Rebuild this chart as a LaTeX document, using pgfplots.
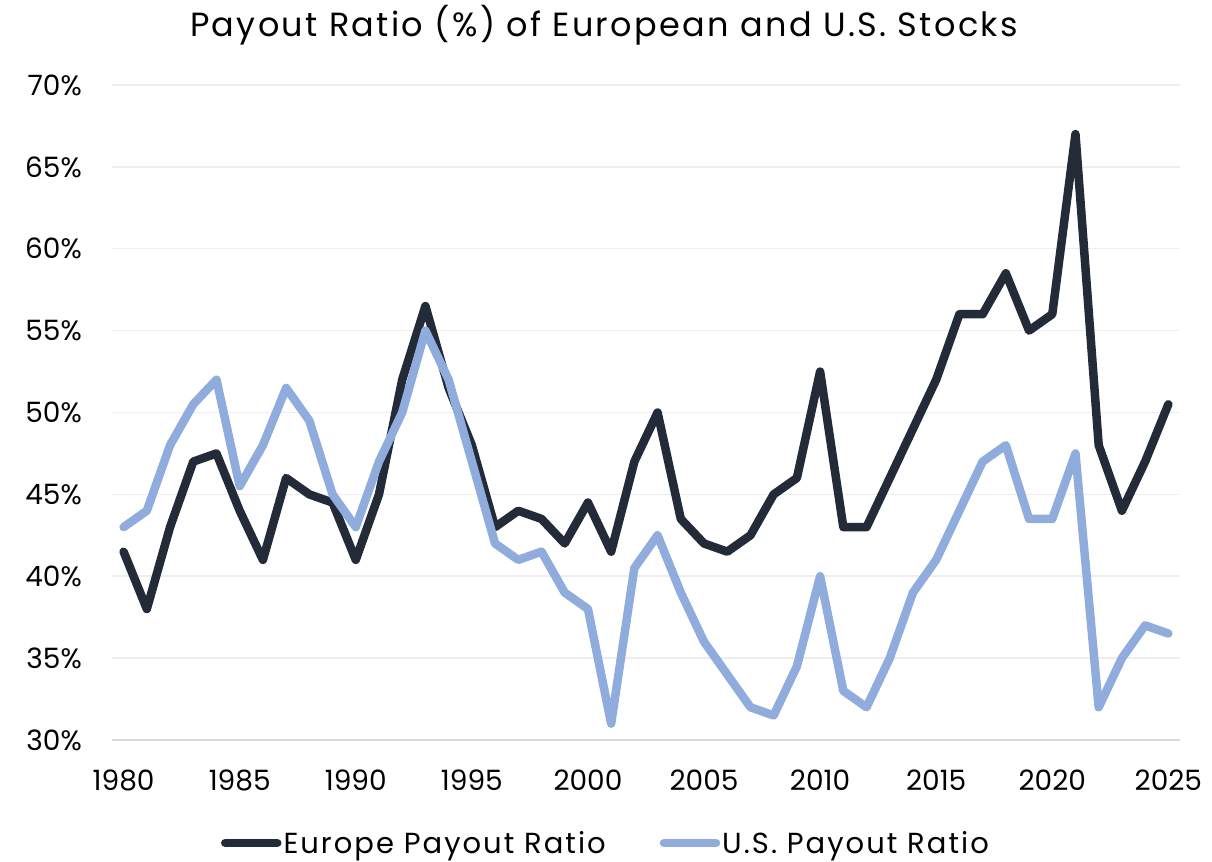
\documentclass[border=0pt]{standalone}
\usepackage{fontspec}
\setmainfont{Poppins}
\newfontfamily\widefont{Poppins}[LetterSpace=7]
\usepackage{pgfplots}
\pgfplotsset{compat=1.18}
\definecolor{eu}{HTML}{222B37}
\definecolor{us}{HTML}{8FACDD}
\definecolor{gridc}{HTML}{EEEEEE}
\definecolor{axisc}{HTML}{D9D9D9}
\begin{document}
\begin{tikzpicture}[x=1bp,y=1bp]
\useasboundingbox (0,0) rectangle (1212,862);
\node[font=\widefont\fontsize{33.5bp}{38bp}\selectfont, anchor=base] at (604,825) {Payout Ratio (\%) of European and U.S. Stocks};
\begin{axis}[
  at={(112bp,122bp)}, anchor=south west,
  scale only axis, width=1068bp, height=655bp,
  xmin=1979.5, xmax=2025.5, ymin=30, ymax=70,
  ytick={30,35,...,70}, xtick={1980,1985,...,2025},
  /pgf/number format/assume math mode=true,
  /pgf/number format/1000 sep={},
  yticklabel={\pgfmathprintnumber{\tick}\%},
  axis x line*=bottom, axis y line*=left,
  x axis line style={axisc, line width=1.5bp, -},
  y axis line style={draw=none, -},
  major tick length=0pt,
  ymajorgrids, grid style={gridc, line width=1.5bp},
  ticklabel style={font=\fontsize{28bp}{32bp}\selectfont, inner sep=0pt},
  yticklabel style={anchor=east, xshift=-30bp},
  xticklabel style={anchor=base, yshift=-51bp},
  legend style={at={(0.4625,-0.157)}, anchor=center, draw=none, legend columns=2,
    font=\widefont\fontsize{29bp}{32bp}\selectfont, inner sep=0pt,
    /tikz/every even column/.append style={column sep=52bp}},
  legend image code/.code={\draw[#1, line cap=round] (0bp,0bp) -- (52bp,0bp);},
  every axis plot/.append style={line width=8.5bp, line join=round, line cap=round},
  clip=false,
]
\addplot[eu] coordinates {
(1980,41.5)(1981,38)(1982,43)(1983,47)(1984,47.5)(1985,44)(1986,41)(1987,46)(1988,45)(1989,44.5)
(1990,41)(1991,45)(1992,52)(1993,56.5)(1994,51.5)(1995,48)(1996,43)(1997,44)(1998,43.5)(1999,42)
(2000,44.5)(2001,41.5)(2002,47)(2003,50)(2004,43.5)(2005,42)(2006,41.5)(2007,42.5)(2008,45)(2009,46)
(2010,52.5)(2011,43)(2012,43)(2013,46)(2014,49)(2015,52)(2016,56)(2017,56)(2018,58.5)(2019,55)
(2020,56)(2021,67)(2022,48)(2023,44)(2024,47)(2025,50.5)};
\addlegendentry{Europe Payout Ratio}
\addplot[us] coordinates {
(1980,43)(1981,44)(1982,48)(1983,50.5)(1984,52)(1985,45.5)(1986,48)(1987,51.5)(1988,49.5)(1989,45)
(1990,43)(1991,47)(1992,50)(1993,55)(1994,52)(1995,47)(1996,42)(1997,41)(1998,41.5)(1999,39)
(2000,38)(2001,31)(2002,40.5)(2003,42.5)(2004,39)(2005,36)(2006,34)(2007,32)(2008,31.5)(2009,34.5)
(2010,40)(2011,33)(2012,32)(2013,35)(2014,39)(2015,41)(2016,44)(2017,47)(2018,48)(2019,43.5)
(2020,43.5)(2021,47.5)(2022,32)(2023,35)(2024,37)(2025,36.5)};
\addlegendentry{U.S. Payout Ratio}
\end{axis}
\end{tikzpicture}
\end{document}
